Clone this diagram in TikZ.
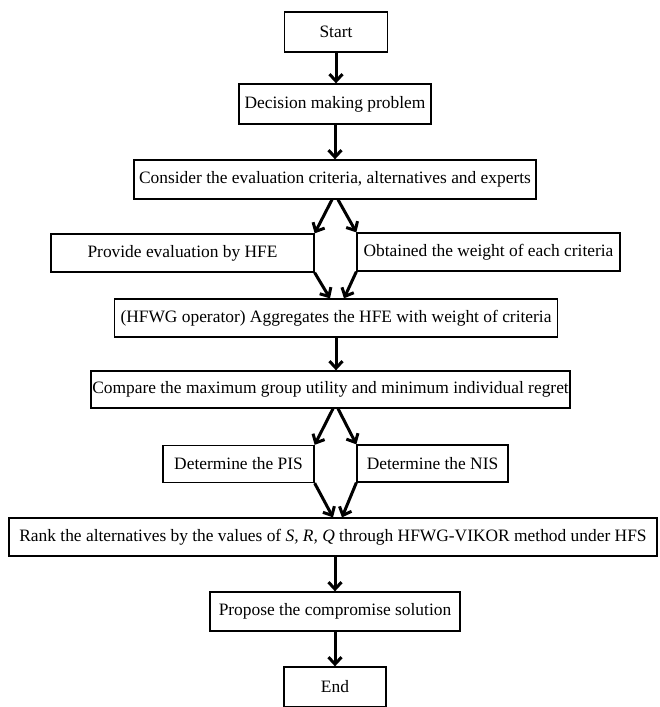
\documentclass[tikz,border=0pt]{standalone}
\usepackage{fontspec}
\setmainfont{Liberation Serif}
\usetikzlibrary{arrows.meta, positioning, calc}

\begin{document}
\begin{tikzpicture}[
  x=1pt, y=-1pt,
  box/.style={rectangle, draw=black, line width=1.3pt, minimum height=38pt, inner sep=0pt, align=center, font=\fontsize{17.4}{20}\selectfont},
  arr/.style={-{Straight Barb[length=7pt, width=13pt]}, line width=3pt}
]
\useasboundingbox (0,0) rectangle (659,707);
\node[box, minimum width=103pt, minimum height=40pt] (start) at (336,32) {Start};
\node[box, minimum width=192pt, minimum height=40pt] (problem) at (335,104) {Decision making problem};
\node[box, minimum width=402pt, minimum height=39pt] (consider) at (335,179.5) {Consider the evaluation criteria, alternatives and experts};
\node[box, minimum width=263pt] (provide) at (182.5,253) {Provide evaluation by HFE};
\node[box, minimum width=263pt] (weight) at (488.5,252) {Obtained the weight of each criteria};
\node[box, minimum width=443pt] (hfwg) at (336,318) {(HFWG operator) Aggregates the HFE with weight of criteria};
\node[box, minimum width=479pt, minimum height=37pt] (compare) at (330.5,389.5) {Compare the maximum group utility and minimum individual regret};
\node[box, minimum width=151pt, minimum height=37pt] (pis) at (238.5,464) {Determine the PIS};
\node[box, minimum width=151pt, minimum height=37pt] (nis) at (432.5,463.5) {Determine the NIS};
\node[box, minimum width=648pt] (rank) at (333,537) {Rank the alternatives by the values of \textit{S, R, Q} through HFWG-VIKOR method under HFS};
\node[box, minimum width=250pt, minimum height=39pt] (propose) at (335,611.5) {Propose the compromise solution};
\node[box, minimum width=102pt, minimum height=40pt] (end) at (335,687) {End};
\draw[arr] (start) -- (start |- problem.north);
\draw[arr] (problem) -- (consider);
\draw[arr] ($(consider.south)+(-3,0)$) -- (provide.north east);
\draw[arr] ($(consider.south)+(3,0)$) -- (weight.north west);
\draw[arr] (provide.south east) -- ($(hfwg.north)+(-6,0)$);
\draw[arr] (weight.south west) -- ($(hfwg.north)+(8,0)$);
\draw[arr] (hfwg.south) -- (hfwg.south |- compare.north);
\draw[arr] ($(compare.south)+(2.5,0)$) -- (pis.north east);
\draw[arr] ($(compare.south)+(7.5,0)$) -- (nis.north west);
\draw[arr] (pis.south east) -- (rank.north);
\draw[arr] (nis.south west) -- ($(rank.north)+(9,0)$);
\draw[arr] (propose.north |- rank.south) -- (propose.north);
\draw[arr] (propose) -- (end);
\end{tikzpicture}
\end{document}
